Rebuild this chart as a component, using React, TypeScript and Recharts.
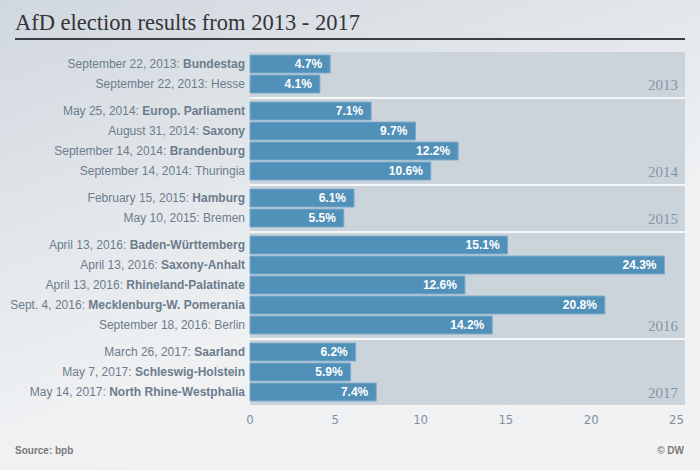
import { Bar, BarChart, LabelList, XAxis, YAxis } from 'recharts'

const years = ['2013', '2014', '2015', '2016', '2017']

const dates = [
  'September 22, 2013', 'September 22, 2013',
  'May 25, 2014', 'August 31, 2014', 'September 14, 2014', 'September 14, 2014',
  'February 15, 2015', 'May 10, 2015',
  'April 13, 2016', 'April 13, 2016', 'April 13, 2016', 'Sept. 4, 2016', 'September 18, 2016',
  'March 26, 2017', 'May 7, 2017', 'May 14, 2017',
]

const states = [
  'Bundestag', 'Hesse',
  'Europ. Parliament', 'Saxony', 'Brandenburg', 'Thuringia',
  'Hamburg', 'Bremen',
  'Baden-Württemberg', 'Saxony-Anhalt', 'Rhineland-Palatinate', 'Mecklenburg-W. Pomerania', 'Berlin',
  'Saarland', 'Schleswig-Holstein', 'North Rhine-Westphalia',
]

const results = [4.7, 4.1, 7.1, 9.7, 12.2, 10.6, 6.1, 5.5, 15.1, 24.3, 12.6, 20.8, 14.2, 6.2, 5.9, 7.4]

const xTicks = [0, 5, 10, 15, 20, 25]

// names printed in regular weight, the rest are bold
const plainStates = ['Hesse', 'Thuringia', 'Bremen', 'Berlin']

const rows = dates.map((d, i) => ({
  label: `${d}: ${states[i]}`,
  year: d.slice(-4),
  value: results[i],
}))

const ROW = 20
const AXIS_H = 33
const SANS = '"Liberation Sans", Arial, sans-serif'
const NARROW = '"Liberation Sans Narrow", "DejaVu Sans Condensed", "Liberation Sans", sans-serif'

function StateTick({ x, y, payload }: any) {
  const idx = payload.value.indexOf(': ')
  const date = payload.value.slice(0, idx + 2)
  const state = payload.value.slice(idx + 2)
  return (
    <text x={x} y={y} dy="0.355em" textAnchor="end" fontSize={12} fill="#6c7c8c" fontFamily={SANS}>
      <tspan>{date}</tspan>
      <tspan fontWeight={plainStates.includes(state) ? 400 : 700}>{state}</tspan>
    </text>
  )
}

function YearGroup({ year, last }: { year: string; last: boolean }) {
  const data = rows.filter((r) => r.year === year)
  const band = data.length * ROW + 5
  const chartH = last ? 2 + data.length * ROW + AXIS_H : band

  return (
    <div style={{ position: 'relative', height: chartH, marginBottom: last ? 0 : 2 }}>
      <div style={{ position: 'absolute', left: 250, top: 0, width: 435, height: band, background: '#ccd4db' }} />
      {!last && (
        <div style={{ position: 'absolute', left: 250, top: band, width: 435, height: 2, background: '#f5f6f8' }} />
      )}
      <div
        style={{
          position: 'absolute',
          right: 7,
          top: band - 19,
          fontFamily: '"Liberation Serif", serif',
          fontSize: 15,
          lineHeight: '15px',
          color: '#8595a5',
        }}
      >
        {year}
      </div>
      <BarChart
        layout="vertical"
        width={685}
        height={chartH}
        data={data}
        margin={{ top: 2, right: 0, bottom: last ? 0 : 3, left: 0 }}
        style={{ position: 'absolute', left: 0, top: 0 }}
      >
        <XAxis
          type="number"
          domain={[0, 25.5]}
          ticks={xTicks}
          hide={!last}
          height={AXIS_H}
          axisLine={false}
          tickLine={false}
          tickSize={0}
          tickMargin={13}
          tick={{ fontSize: 13, fill: '#7f90a1', fontFamily: NARROW }}
        />
        <YAxis
          type="category"
          dataKey="label"
          width={250}
          axisLine={false}
          tickLine={false}
          tickSize={0}
          tickMargin={5}
          interval={0}
          tick={<StateTick />}
        />
        <Bar dataKey="value" fill="#5190b9" stroke="#7eabcb" strokeWidth={1} barSize={18} isAnimationActive={false}>
          <LabelList
            dataKey="value"
            position="insideRight"
            offset={8}
            fill="#ffffff"
            fontSize={12}
            fontWeight={700}
            fontFamily={SANS}
            formatter={(v: any) => `${Number(v).toFixed(1)}%`}
          />
        </Bar>
      </BarChart>
    </div>
  )
}

export default function App() {
  return (
    <div
      style={{
        position: 'absolute',
        left: 0,
        top: 0,
        width: 700,
        height: 470,
        overflow: 'hidden',
        background: 'linear-gradient(160deg, #d0d7de 0%, #e3e7eb 35%, #eff1f3 60%, #f1f2f4 100%)',
      }}
    >
      <div
        style={{
          position: 'absolute',
          left: 15,
          top: 8,
          fontFamily: '"Liberation Serif", Georgia, serif',
          fontSize: 22.5,
          lineHeight: '30px',
          color: '#333538',
          whiteSpace: 'nowrap',
        }}
      >
        AfD election results from 2013 - 2017
      </div>
      <div style={{ position: 'absolute', left: 15, top: 38, width: 670, height: 2, background: '#3b3d40' }} />

      <div style={{ position: 'absolute', left: 0, top: 52, width: 685 }}>
        {years.map((y, i) => (
          <YearGroup key={y} year={y} last={i === years.length - 1} />
        ))}
      </div>

      <div
        style={{
          position: 'absolute',
          left: 15,
          top: 445,
          fontFamily: SANS,
          fontSize: 10,
          fontWeight: 700,
          color: '#7a7a7a',
        }}
      >
        Source: bpb
      </div>
      <div
        style={{
          position: 'absolute',
          right: 16,
          top: 445,
          fontFamily: SANS,
          fontSize: 10,
          fontWeight: 700,
          color: '#7a7a7a',
        }}
      >
        © DW
      </div>
    </div>
  )
}
